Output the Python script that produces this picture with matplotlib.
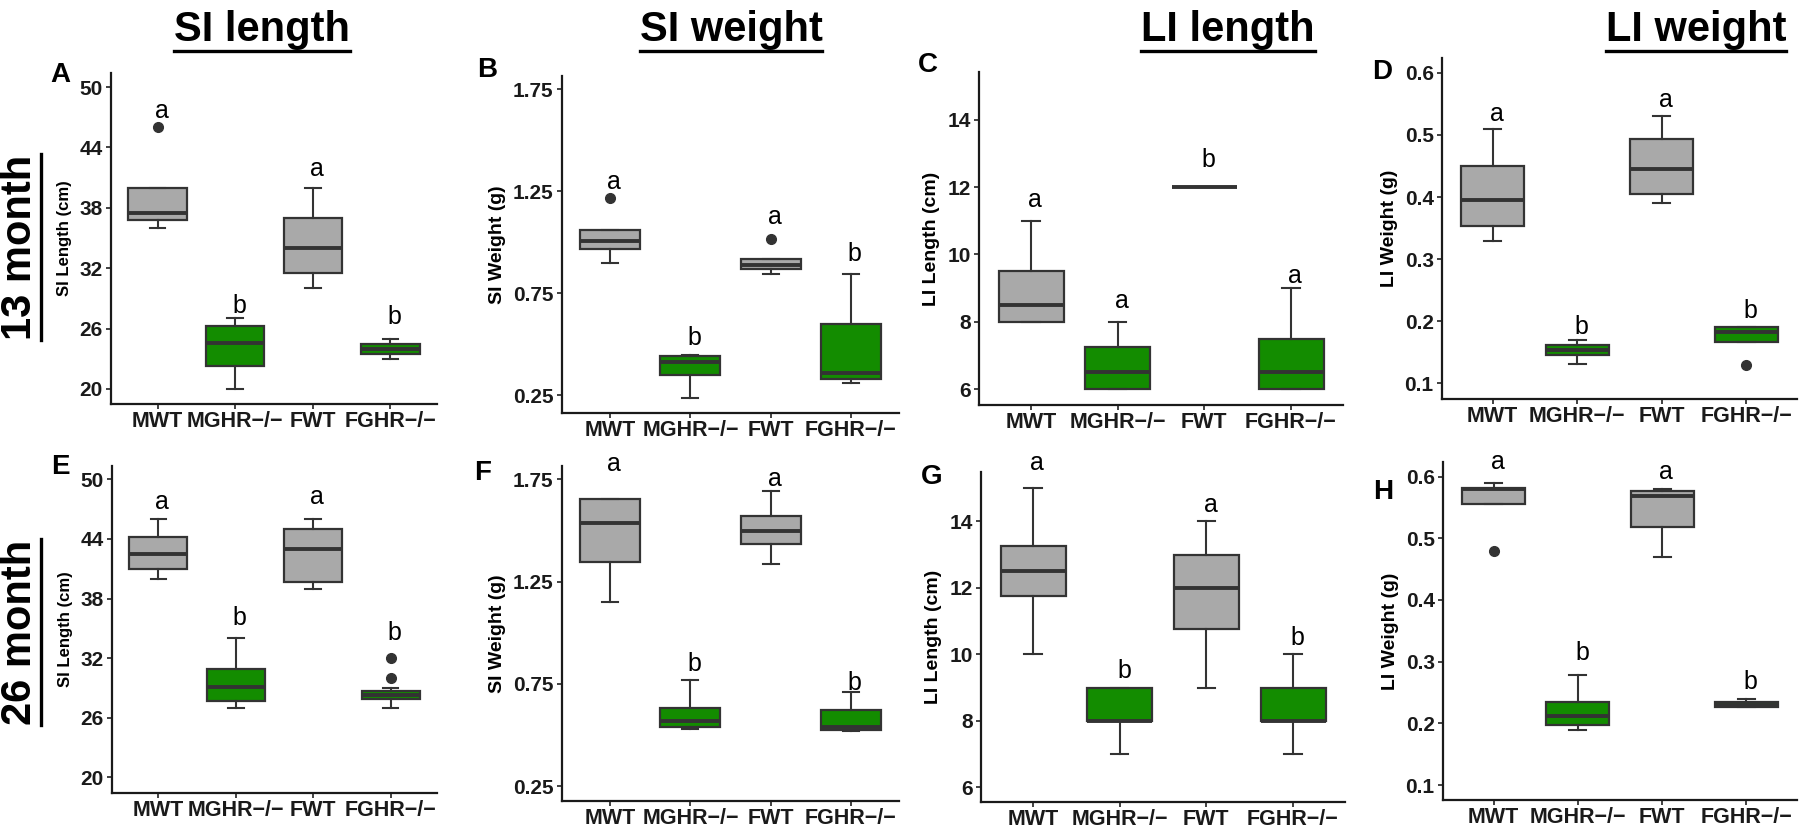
import matplotlib
matplotlib.use('Agg')
import matplotlib.pyplot as plt
from matplotlib.lines import Line2D

W, H = 1800, 834

groups = ['MWT', 'MGHR\u2212/\u2212', 'FWT', 'FGHR\u2212/\u2212']
fills = ['#a9a9a9', '#138c00', '#a9a9a9', '#138c00']

# A: SI length, 13 month
a_q1 = [36.75, 22.3, 31.5, 23.5]
a_med = [37.5, 24.55, 34.0, 24.0]
a_q3 = [40.0, 26.3, 37.0, 24.5]
a_lo = [36.0, 20.0, 30.0, 23.0]
a_hi = [40.0, 27.0, 40.0, 25.0]
a_out = [[46.0], [], [], []]
a_let = ['a', 'b', 'a', 'b']
a_let_y = [46.9, 27.5, 41.2, 26.5]

# B: SI weight, 13 month
b_q1 = [0.968, 0.348, 0.867, 0.332]
b_med = [1.004, 0.412, 0.887, 0.358]
b_q3 = [1.059, 0.441, 0.919, 0.601]
b_lo = [0.898, 0.237, 0.846, 0.309]
b_hi = [1.059, 0.449, 0.919, 0.846]
b_out = [[1.215], [], [1.015], []]
b_let = ['a', 'b', 'a', 'b']
b_let_y = [1.26, 0.498, 1.089, 0.906]

# C: LI length, 13 month
c_q1 = [8.0, 6.0, 12.0, 6.0]
c_med = [8.5, 6.5, 12.0, 6.5]
c_q3 = [9.5, 7.26, 12.0, 7.5]
c_lo = [8.0, 6.0, 12.0, 6.0]
c_hi = [11.0, 8.0, 12.0, 9.0]
c_out = [[], [], [], []]
c_let = ['a', 'a', 'b', 'a']
c_let_y = [11.41, 8.4, 12.6, 9.14]

# D: LI weight, 13 month
d_q1 = [0.353, 0.145, 0.405, 0.167]
d_med = [0.396, 0.153, 0.446, 0.182]
d_q3 = [0.45, 0.162, 0.493, 0.191]
d_lo = [0.33, 0.131, 0.39, 0.167]
d_hi = [0.51, 0.17, 0.53, 0.191]
d_out = [[], [], [], [0.13]]
d_let = ['a', 'b', 'a', 'b']
d_let_y = [0.522, 0.18, 0.545, 0.205]

# E: SI length, 26 month
e_q1 = [40.95, 27.65, 39.7, 27.85]
e_med = [42.5, 29.05, 43.0, 28.3]
e_q3 = [44.2, 30.95, 45.0, 28.7]
e_lo = [40.0, 27.0, 39.0, 27.0]
e_hi = [46.0, 34.0, 46.0, 29.0]
e_out = [[], [], [], [32.0, 30.0]]
e_let = ['a', 'b', 'a', 'b']
e_let_y = [47.0, 35.3, 47.5, 33.8]

# F: SI weight, 26 month
f_q1 = [1.348, 0.537, 1.434, 0.524]
f_med = [1.537, 0.568, 1.497, 0.54]
f_q3 = [1.653, 0.634, 1.569, 0.621]
f_lo = [1.148, 0.529, 1.335, 0.518]
f_hi = [1.653, 0.768, 1.694, 0.71]
f_out = [[], [], [], []]
f_let = ['a', 'b', 'a', 'b']
f_let_y = [1.79, 0.815, 1.718, 0.718]

# G: LI length, 26 month
g_q1 = [11.75, 8.0, 10.75, 8.0]
g_med = [12.5, 8.0, 12.0, 8.0]
g_q3 = [13.25, 9.0, 13.0, 9.0]
g_lo = [10.0, 7.0, 9.0, 7.0]
g_hi = [15.0, 9.0, 14.0, 10.0]
g_out = [[], [], [], []]
g_let = ['a', 'b', 'a', 'b']
g_let_y = [15.54, 9.28, 14.3, 10.29]

# H: LI weight, 26 month
h_q1 = [0.555, 0.197, 0.519, 0.227]
h_med = [0.58, 0.212, 0.569, 0.23]
h_q3 = [0.582, 0.234, 0.576, 0.234]
h_lo = [0.555, 0.189, 0.47, 0.227]
h_hi = [0.59, 0.279, 0.58, 0.24]
h_out = [[0.479], [], [], []]
h_let = ['a', 'b', 'a', 'b']
h_let_y = [0.612, 0.303, 0.596, 0.255]

si_len_ticks = [20, 26, 32, 38, 44, 50]
si_wt_ticks = [0.25, 0.75, 1.25, 1.75]
li_len_ticks = [6, 8, 10, 12, 14]
li_wt_ticks = [0.1, 0.2, 0.3, 0.4, 0.5, 0.6]

col_titles = ['SI length', 'SI weight', 'LI length', 'LI weight']
row_titles = ['13 month', '26 month']


def px_rect(x0, x1, ytop, ybot):
    return [x0 / W, 1 - ybot / H, (x1 - x0) / W, (ybot - ytop) / H]


# letter, data, y label, ticks, tick format, ylim, axes rect (px), ylabel size, letter pos (px)
panels = [
    ('A', (a_q1, a_med, a_q3, a_lo, a_hi, a_out, a_let, a_let_y), 'SI Length (cm)',
     si_len_ticks, '{:g}', (18.5, 51.4), px_rect(111, 437, 73, 404), 12, (60, 75)),
    ('B', (b_q1, b_med, b_q3, b_lo, b_hi, b_out, b_let, b_let_y), 'SI Weight (g)',
     si_wt_ticks, '{:.2f}', (0.163, 1.815), px_rect(562, 899, 76, 413), 14, (487, 70)),
    ('C', (c_q1, c_med, c_q3, c_lo, c_hi, c_out, c_let, c_let_y), 'LI Length (cm)',
     li_len_ticks, '{:g}', (5.536, 15.41), px_rect(979, 1343, 72, 405), 14, (928, 65)),
    ('D', (d_q1, d_med, d_q3, d_lo, d_hi, d_out, d_let, d_let_y), 'LI Weight (g)',
     li_wt_ticks, '{:.1f}', (0.0747, 0.624), px_rect(1442, 1797, 58, 399), 14, (1382, 72)),
    ('E', (e_q1, e_med, e_q3, e_lo, e_hi, e_out, e_let, e_let_y), 'SI Length (cm)',
     si_len_ticks, '{:g}', (18.43, 51.34), px_rect(112, 437, 466, 793), 12, (60, 467)),
    ('F', (f_q1, f_med, f_q3, f_lo, f_hi, f_out, f_let, f_let_y), 'SI Weight (g)',
     si_wt_ticks, '{:.2f}', (0.177, 1.815), px_rect(562, 899, 466, 801), 14, (483, 473)),
    ('G', (g_q1, g_med, g_q3, g_lo, g_hi, g_out, g_let, g_let_y), 'LI Length (cm)',
     li_len_ticks, '{:g}', (5.553, 15.49), px_rect(981, 1345, 472, 802), 14, (932, 477)),
    ('H', (h_q1, h_med, h_q3, h_lo, h_hi, h_out, h_let, h_let_y), 'LI Weight (g)',
     li_wt_ticks, '{:.1f}', (0.0758, 0.6236), px_rect(1443, 1797, 462, 800), 14, (1383, 492)),
]

plt.rcParams['font.family'] = ['Liberation Sans', 'DejaVu Sans']
edge = '#333333'

fig = plt.figure(figsize=(W / 100, H / 100), dpi=100)

for letter, data, ylab, ticks, fmt, ylim, rect, ylab_size, lpos in panels:
    q1, med, q3, lo, hi, out, lets, let_y = data
    ax = fig.add_axes(rect)
    stats = []
    for i in range(len(groups)):
        stats.append({'q1': q1[i], 'med': med[i], 'q3': q3[i], 'whislo': lo[i],
                      'whishi': hi[i], 'fliers': out[i], 'label': groups[i]})
    bp = ax.bxp(stats, positions=[1, 2, 3, 4], widths=0.75, capwidths=0.2,
                patch_artist=True,
                boxprops=dict(edgecolor=edge, linewidth=1.6),
                medianprops=dict(color=edge, linewidth=2.8, solid_capstyle='butt'),
                whiskerprops=dict(color=edge, linewidth=1.5),
                capprops=dict(color=edge, linewidth=1.5),
                flierprops=dict(marker='o', markersize=7, markerfacecolor=edge,
                                markeredgecolor=edge))
    for patch, c in zip(bp['boxes'], fills):
        patch.set_facecolor(c)
    for i in range(len(groups)):
        ax.text(i + 1.05, let_y[i], lets[i], ha='center', va='baseline',
                fontsize=18, color='black', clip_on=False)
    ax.set_xlim(0.4, 4.6)
    ax.set_ylim(*ylim)
    ax.set_yticks(ticks)
    ax.set_yticklabels([fmt.format(t) for t in ticks])
    ax.set_xticks([1, 2, 3, 4])
    ax.set_xticklabels(groups)
    for s in ['top', 'right']:
        ax.spines[s].set_visible(False)
    for s in ['left', 'bottom']:
        ax.spines[s].set_linewidth(1.6)
        ax.spines[s].set_color('#1a1a1a')
    ax.tick_params(axis='y', length=3.5, width=1.3, color=edge, pad=2.5,
                   labelsize=15, labelcolor='#1a1a1a')
    ax.tick_params(axis='x', length=3.5, width=1.3, color=edge, pad=1.5,
                   labelsize=15.5, labelcolor='#1a1a1a')
    for lab in ax.get_xticklabels() + ax.get_yticklabels():
        lab.set_fontweight('bold')
    ax.set_ylabel(ylab, fontsize=ylab_size, fontweight='bold', labelpad=5)
    fig.text(lpos[0] / W, 1 - lpos[1] / H, letter, fontsize=20, fontweight='bold',
             ha='center', va='center')

# column and row headings, underlined
heads = []
title_x = [262, 731, 1228, 1696]
for t, x in zip(col_titles, title_x):
    heads.append((fig.text(x / W, 1 - 30 / H, t, fontsize=30, fontweight='bold',
                           ha='center', va='center'), 'h'))
row_y = [247, 632]
for t, y in zip(row_titles, row_y):
    heads.append((fig.text(20 / W, 1 - y / H, t, fontsize=30, fontweight='bold',
                           rotation=90, ha='center', va='center'), 'v'))

fig.canvas.draw()
renderer = fig.canvas.get_renderer()
for txt, kind in heads:
    bb = txt.get_window_extent(renderer)
    if kind == 'h':
        yl = (bb.y0 - 1) / H
        fig.add_artist(Line2D([bb.x0 / W, bb.x1 / W], [yl, yl], color='black', lw=2.4))
    else:
        xl = (bb.x1 + 1) / W
        fig.add_artist(Line2D([xl, xl], [bb.y0 / H, bb.y1 / H], color='black', lw=2.4))

fig.savefig('out.png', dpi=100, facecolor='white')
